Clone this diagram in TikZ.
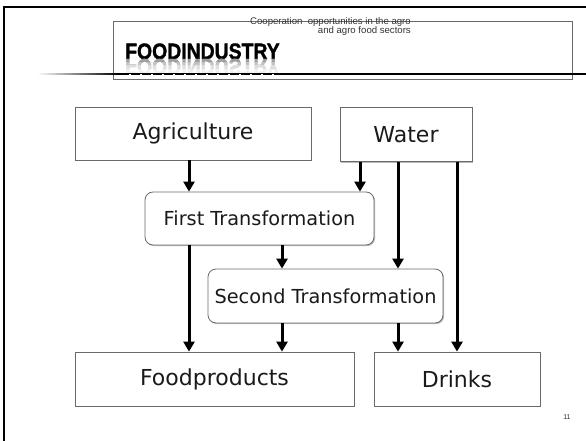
\documentclass[tikz,border=0pt]{standalone}
\usepackage{fontspec}
\setmainfont{DejaVu Sans}
\newfontfamily\arialf{Liberation Sans}
\newfontfamily\headf{Liberation Sans Bold}[FakeBold=1.6]
\usetikzlibrary{arrows.meta,shadows}
\definecolor{txt}{HTML}{1A1A1A}
\definecolor{edge}{HTML}{6A6A6A}
\definecolor{hdr}{HTML}{333333}
\begin{document}
\begin{tikzpicture}[x=1pt,y=-1pt,
  box/.style={draw=edge, line width=0.8pt, fill=white, inner sep=0pt, text=txt,
    drop shadow={shadow xshift=1.1pt, shadow yshift=-1.1pt, fill=black!28, opacity=1}},
  bigbox/.style={box, font=\fontsize{22}{26}\selectfont},
  tbox/.style={box, rounded corners=8pt, font=\fontsize{19.3}{23}\selectfont},
  arr/.style={line width=3pt, -{Triangle[width=11pt,length=10pt]}, black},
  headtxt/.style={inner sep=0pt, font=\headf\fontsize{22.3}{24}\selectfont}
]
\useasboundingbox (0,0) rectangle (586,441);
% slide frame
\draw[line width=2.6pt, line cap=rect] (4,441) -- (4,7) -- (586,7);
% header
\draw[edge, line width=0.7pt] (113,21) rectangle (572,79);
\shade[left color=white, right color=black] (37,73.4) rectangle (118,75);
\fill[black] (118,73) rectangle (586,75.2);
\node[anchor=base east, text=hdr, font=\arialf\fontsize{9.6}{10}\selectfont, inner sep=0pt] (h1) at (411,25) {Cooperation\ \ opportunities in the agro};
\node[anchor=base east, text=hdr, font=\arialf\fontsize{9.6}{10}\selectfont, inner sep=0pt] (h2) at (411,34) {and agro food sectors};
\node[anchor=base west, headtxt] (fi) at (125,59) {\scalebox{0.87}[1]{FOODINDUSTRY}};
% reflection
\foreach \ya/\yb/\c in {59/62.5/38, 62.5/66/24, 66/69.5/13, 69.5/73/6}{
  \begin{scope}
    \clip (120,\ya) rectangle (295,\yb);
    \node[anchor=base west, headtxt, text=black!\c] at (125,59) {\scalebox{0.87}[-1]{FOODINDUSTRY}};
  \end{scope}
}
\draw[white, line width=1pt, dash pattern=on 2pt off 9pt] (129,74.4) -- (281,74.4);
% boxes
\node[bigbox, minimum width=236pt, minimum height=53pt] (agr) at (193,133.5) {Agriculture};
\node[bigbox, minimum width=132pt, minimum height=54pt] (wat) at (406,134.5) {Water};
\node[tbox, minimum width=229pt, minimum height=53pt] (ft) at (259.5,218.5) {First Transformation};
\node[tbox, minimum width=235pt, minimum height=54pt] (st) at (325.5,296) {Second Transformation};
\node[bigbox, minimum width=279pt, minimum height=54pt] (fp) at (214.5,379) {Foodproducts};
\node[bigbox, minimum width=166pt, minimum height=54pt] (dr) at (457,379) {Drinks};
% x positions of connectors
\coordinate (xa) at (189,0);
\coordinate (xb) at (282,0);
\coordinate (xc) at (360,0);
\coordinate (xd) at (398,0);
\coordinate (xe) at (457,0);
% connectors
\draw[arr] (agr.south -| xa) -- (ft.north -| xa);
\draw[arr] (wat.south -| xc) -- (ft.north -| xc);
\draw[arr] (wat.south -| xd) -- (st.north -| xd);
\draw[arr] (wat.south -| xe) -- (dr.north -| xe);
\draw[arr] (ft.south -| xb) -- (st.north -| xb);
\draw[arr] (ft.south -| xa) -- (fp.north -| xa);
\draw[arr] (st.south -| xb) -- (fp.north -| xb);
\draw[arr] (st.south -| xd) -- (dr.north -| xd);
% slide number
\node[font=\arialf\fontsize{7}{8}\selectfont, text=hdr] (num) at (567,417) {11};
\end{tikzpicture}
\end{document}
